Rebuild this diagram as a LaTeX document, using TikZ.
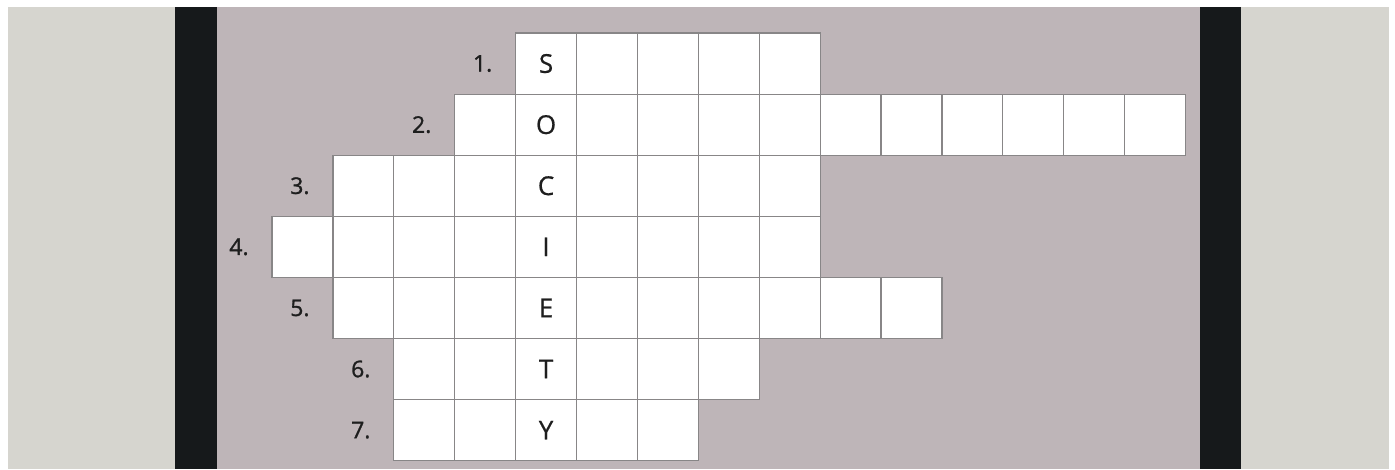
\documentclass[tikz,border=0pt]{standalone}
\usepackage{fontspec}
\setmainfont{Open Sans}
\newfontfamily\letterfont{Open Sans}[FakeBold=0.6]
\newfontfamily\numfont{Open Sans}[FakeBold=1.2]
\definecolor{concrete}{HTML}{D6D5CF}
\definecolor{panel}{HTML}{BEB5B8}
\definecolor{frameblack}{HTML}{16191B}
\definecolor{gridgrey}{HTML}{888687}
\definecolor{ink}{HTML}{1E1E1E}
\tikzset{
  cell/.style={draw=gridgrey, fill=white, line width=1.2pt, minimum width=60.9pt, minimum height=61.1pt, inner sep=0pt, outer sep=0pt, anchor=north west},
  letter/.style={text=ink, font=\letterfont\fontsize{26}{26}\selectfont, inner sep=0pt},
  num/.style={text=ink, font=\numfont\fontsize{23}{23}\selectfont, inner sep=0pt}
}
\begin{document}
\begin{tikzpicture}[x=1pt,y=-1pt]
\useasboundingbox (0,0) rectangle (1395,469);
\fill[white] (0,0) rectangle (1395,469);
\fill[concrete] (8,7) rectangle (1389,469);
\fill[panel] (217,7) rectangle (1200,469);
\fill[frameblack] (175,7) rectangle (217,469);
\fill[frameblack] (1200,7) rectangle (1241,469);
\foreach \r/\a/\b/\L in {1/4/8/S, 2/3/14/O, 3/1/8/C, 4/0/8/I, 5/1/10/E, 6/2/7/T, 7/2/6/Y} {
  \foreach \c in {\a,...,\b} {
    \node[cell] (r\r c\c) at ({272+60.9*\c},{33+61.1*(\r-1)}) {};
  }
  \node[letter] (L\r) at (r\r c4) {\L};
  \node[num, xshift=-33pt] (n\r) at (r\r c\a.west) {\r.};
}
\end{tikzpicture}
\end{document}
